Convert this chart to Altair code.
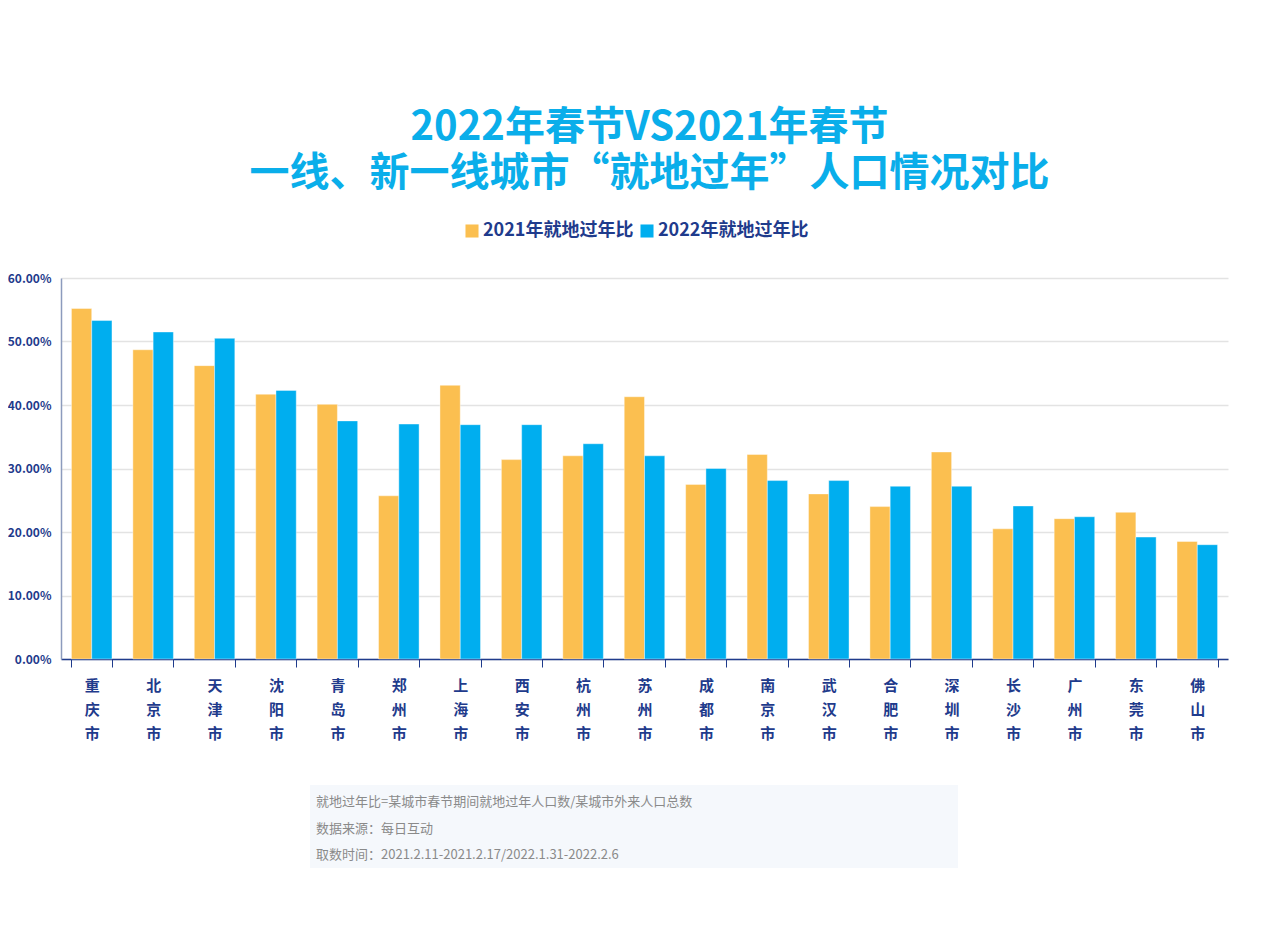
import altair as alt
import pandas as pd

cities = ["重庆市", "北京市", "天津市", "沈阳市", "青岛市", "郑州市", "上海市", "西安市", "杭州市", "苏州市",
          "成都市", "南京市", "武汉市", "合肥市", "深圳市", "长沙市", "广州市", "东莞市", "佛山市"]
v2021 = [55.2, 48.7, 46.2, 41.7, 40.1, 25.7, 43.1, 31.4, 32.0, 41.3,
         27.5, 32.2, 26.0, 24.0, 32.6, 20.5, 22.1, 23.1, 18.5]
v2022 = [53.3, 51.5, 50.5, 42.3, 37.5, 37.0, 36.9, 36.9, 33.9, 32.0,
         30.0, 28.1, 28.1, 27.2, 27.2, 24.1, 22.4, 19.2, 18.0]
series = ["2021年就地过年比", "2022年就地过年比"]
colors = ["#FBBF50", "#00AEEF"]
title_lines = ["2022年春节VS2021年春节", "一线、新一线城市“就地过年”人口情况对比"]
notes = ["就地过年比=某城市春节期间就地过年人口数/某城市外来人口总数",
         "数据来源：每日互动",
         "取数时间：2021.2.11-2021.2.17/2022.1.31-2022.2.6"]

rows = []
for c, a, b in zip(cities, v2021, v2022):
    rows.append({"city": c, "series": series[0], "value": a / 100})
    rows.append({"city": c, "series": series[1], "value": b / 100})
df = pd.DataFrame(rows)
notes_df = pd.DataFrame({"note": notes, "i": list(range(len(notes)))})

FONT = "Noto Sans CJK SC"
NAVY = "#1f3b8c"

bars = alt.Chart(df).mark_bar(stroke="#ffffff", strokeOpacity=0.5, strokeWidth=0.8).encode(
    x=alt.X("city:N", sort=cities, title=None,
            scale=alt.Scale(paddingInner=0.34, paddingOuter=0.17),
            axis=alt.Axis(labelAngle=0, labelExpr="split(datum.label, '')",
                          labelLineHeight=24, labelFontSize=15, labelFontWeight="bold",
                          labelColor=NAVY, labelFont=FONT, labelPadding=11,
                          tickBand="extent", ticks=True, tickSize=8, tickColor=NAVY,
                          domainColor=NAVY, domainWidth=1.5, labelBaseline="top")),
    xOffset=alt.XOffset("series:N", sort=series),
    y=alt.Y("value:Q", title=None,
            scale=alt.Scale(domain=[0, 0.6]),
            axis=alt.Axis(format=".2%", values=[0, 0.1, 0.2, 0.3, 0.4, 0.5, 0.6],
                          labelFontSize=12, labelFontWeight="bold", labelColor=NAVY, labelFont=FONT,
                          ticks=False, labelPadding=10, domainColor="#8c9bbd", domainWidth=1.5,
                          gridColor="#e3e3e3", gridWidth=1.5)),
    color=alt.Color("series:N", sort=series,
                    scale=alt.Scale(domain=series, range=colors),
                    legend=alt.Legend(title=None, orient="none", legendX=402, legendY=-56,
                                      direction="horizontal", symbolType="square", symbolSize=170,
                                      symbolStrokeWidth=0, labelFontSize=18, labelFontWeight="bold",
                                      labelColor=NAVY, labelFont=FONT, labelOffset=2, columnPadding=4)),
)

box = alt.Chart(pd.DataFrame({"k": [0]})).mark_rect(color="#f5f8fc").encode(
    x=alt.value(249), x2=alt.value(897), y=alt.value(507), y2=alt.value(590)
)

note_text = alt.Chart(notes_df).mark_text(
    align="left", baseline="middle", font=FONT, fontSize=13, color="#8a8a8a"
).encode(
    x=alt.value(255),
    y=alt.Y("i:Q", scale=alt.Scale(domain=[0, 2], range=[524, 577]), axis=None),
    text="note:N",
)

chart = alt.layer(bars, box, note_text).resolve_scale(y="independent").properties(
    width=1167, height=381,
    padding={"left": 53, "top": 270, "right": 30, "bottom": 280},
    autosize=alt.AutoSizeParams(type="none"),
    background="white",
    title=alt.TitleParams(title_lines, font=FONT, fontSize=40, fontWeight="bold", color="#0AAEEA",
                          anchor="middle", lineHeight=46, offset=28, dx=5),
).configure_view(stroke=None)

chart.save("out.html", embed_options={"renderer": "svg", "actions": False})
